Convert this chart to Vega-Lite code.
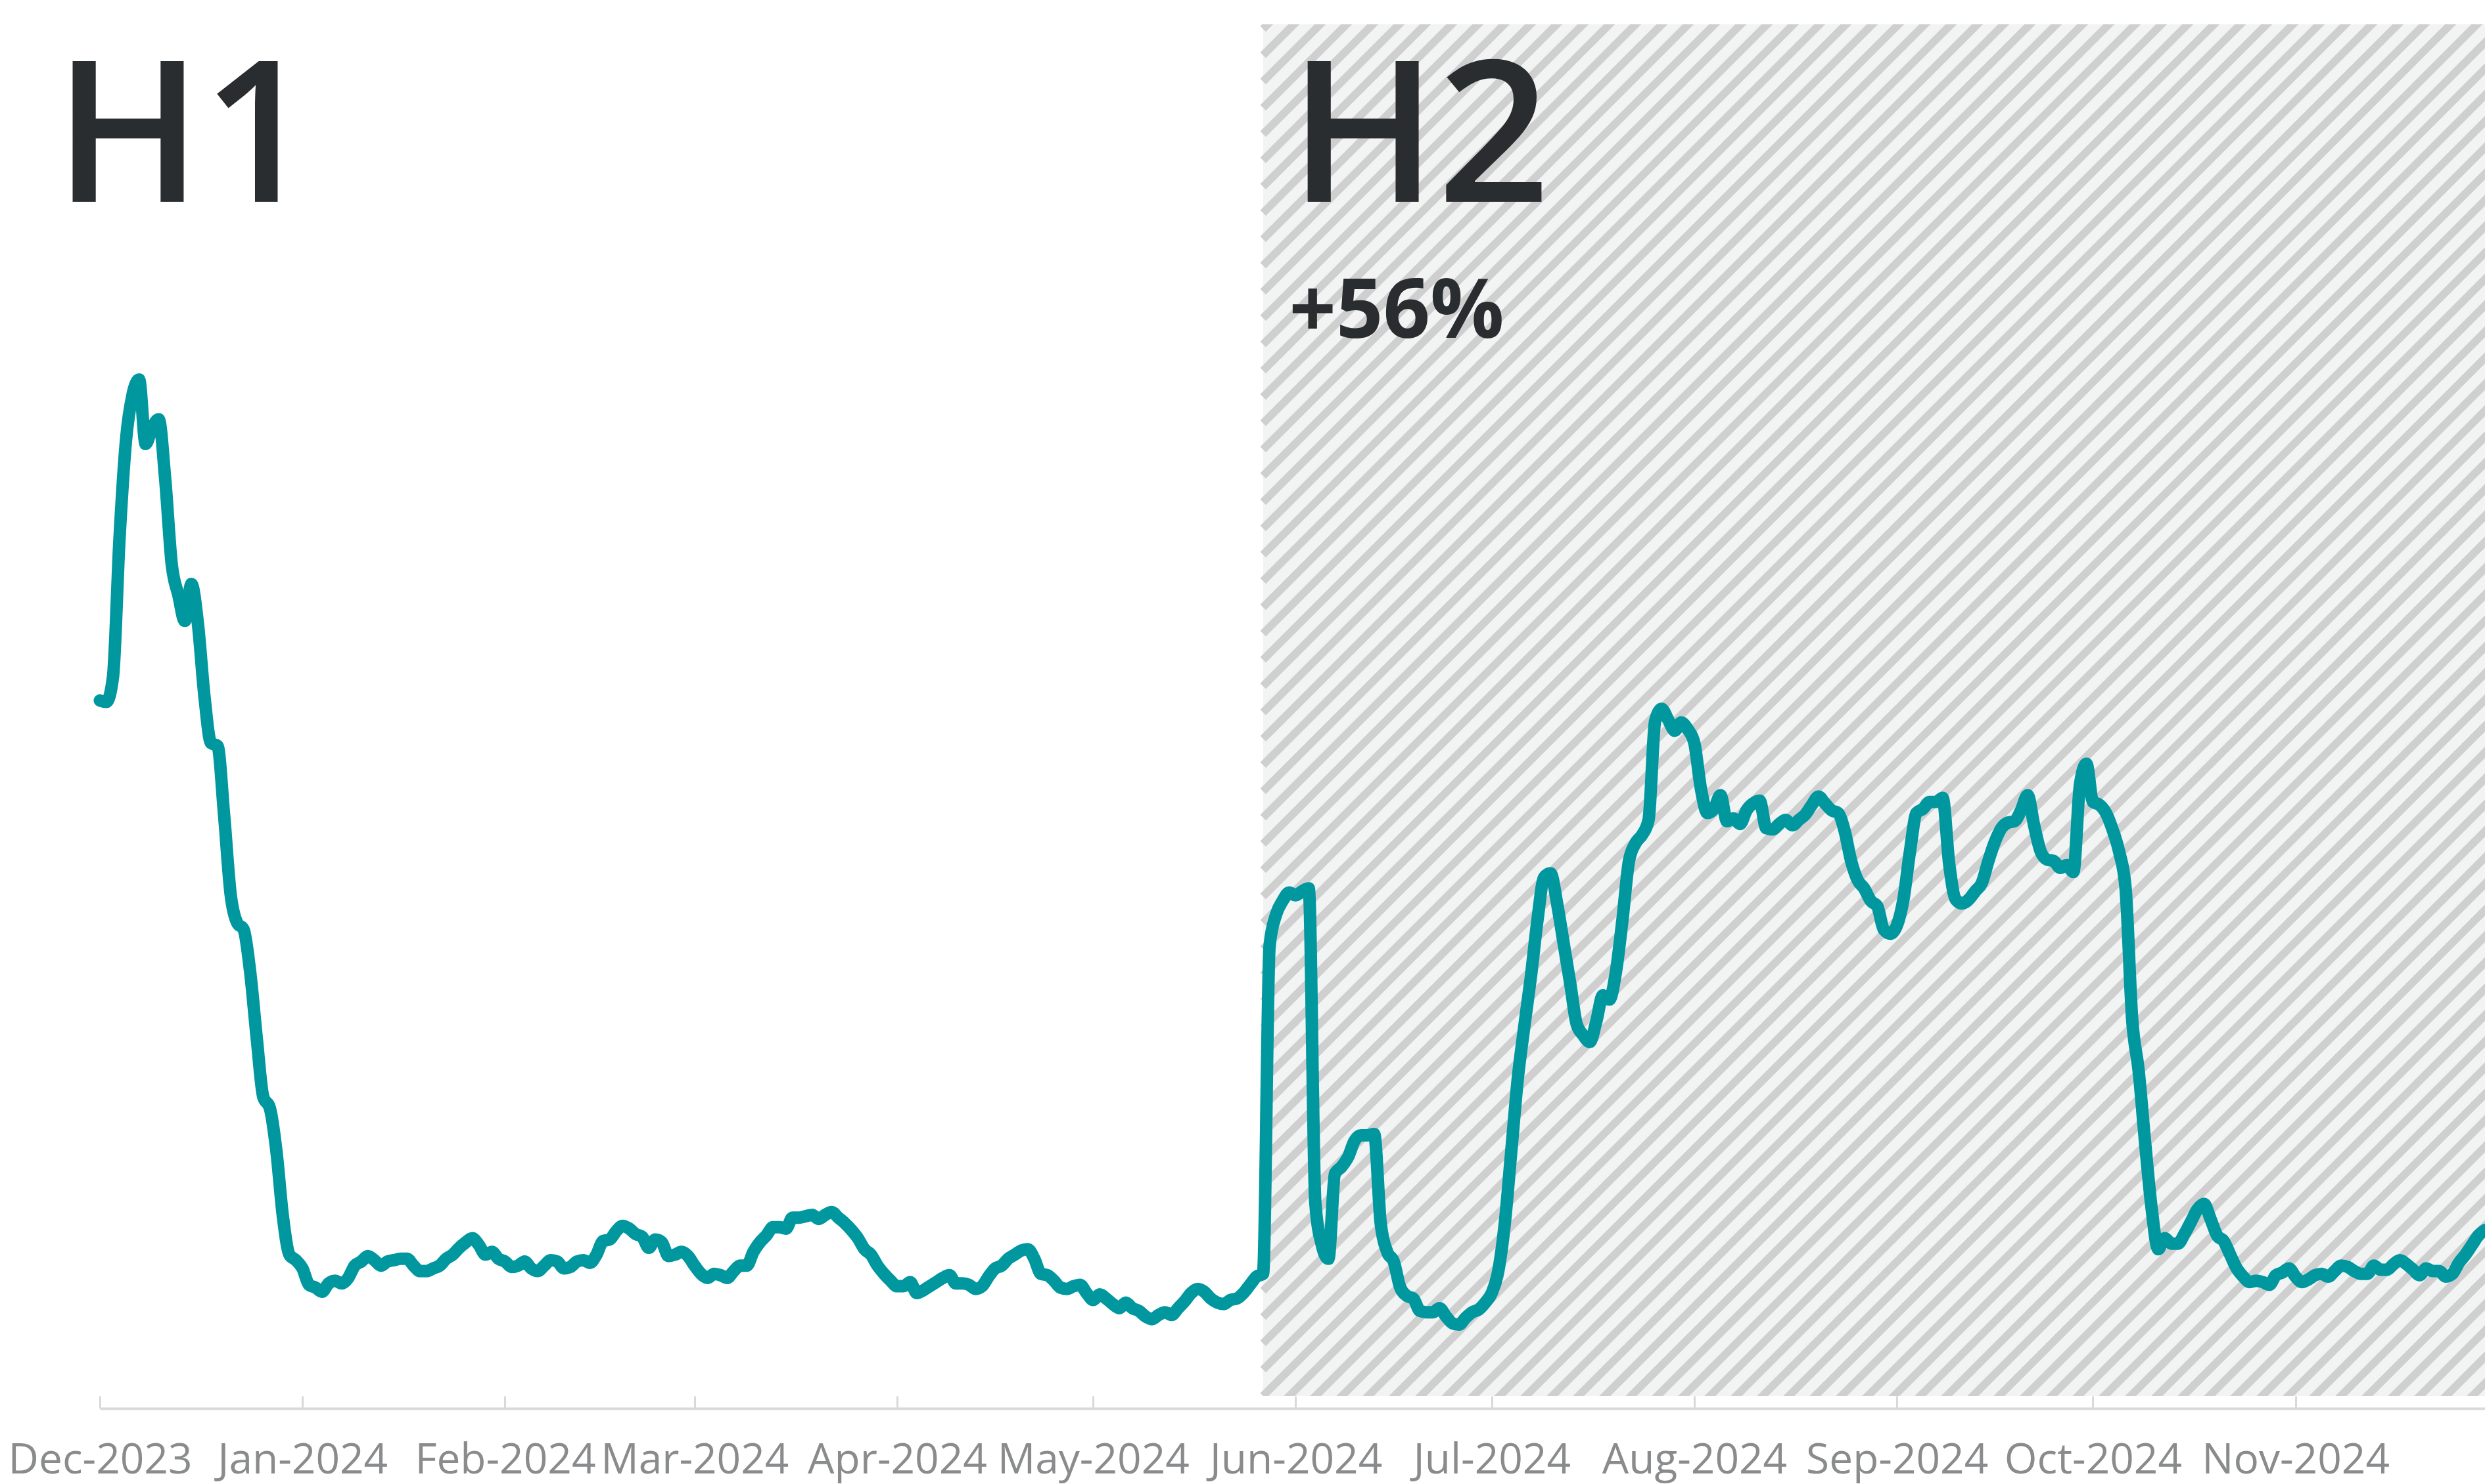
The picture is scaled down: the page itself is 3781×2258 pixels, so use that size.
{
"$schema": "https://vega.github.io/schema/vega-lite/v6.json",
"width": 3629,
"height": 2087,
"autosize": {"type": "none"},
"padding": {"left": 152, "top": 37, "right": 0, "bottom": 134},
"background": "#ffffff",
"config": {"view": {"stroke": null}, "font": "Open Sans"},
"datasets": {
"period": [{"period": "H2", "date": "2024-05-27", "end": "2024-11-30", "value": 0, "top": 100}],
"labels": [{"label": "H1", "date": "2023-11-24", "value": 87.06}, {"label": "H2", "date": "2024-05-31", "value": 87.06}],
"change": [{"label": "+56%", "date": "2024-05-31", "value": 77.14}],
"series": [
{"date":"2023-12-01","value":50.7},{"date":"2023-12-02","value":50.6},{"date":"2023-12-03","value":52.4},{"date":"2023-12-04","value":62.5},{"date":"2023-12-05","value":69.7},{"date":"2023-12-06","value":73.0},{"date":"2023-12-07","value":74.1},{"date":"2023-12-08","value":69.4},{"date":"2023-12-09","value":70.6},{"date":"2023-12-10","value":71.2},{"date":"2023-12-11","value":66.8},{"date":"2023-12-12","value":60.6},{"date":"2023-12-13","value":58.4},{"date":"2023-12-14","value":56.5},{"date":"2023-12-15","value":59.2},{"date":"2023-12-16","value":56.3},{"date":"2023-12-17","value":51.0},{"date":"2023-12-18","value":47.6},{"date":"2023-12-19","value":47.4},{"date":"2023-12-20","value":42.4},{"date":"2023-12-21","value":36.6},{"date":"2023-12-22","value":34.5},{"date":"2023-12-23","value":34.0},{"date":"2023-12-24","value":30.9},{"date":"2023-12-25","value":26.1},{"date":"2023-12-26","value":21.8},{"date":"2023-12-27","value":21.0},{"date":"2023-12-28","value":17.9},{"date":"2023-12-29","value":13.1},{"date":"2023-12-30","value":10.3},{"date":"2023-12-31","value":9.9},
{"date":"2024-01-01","value":9.3},{"date":"2024-01-02","value":8.1},{"date":"2024-01-03","value":7.9},{"date":"2024-01-04","value":7.6},{"date":"2024-01-05","value":8.2},{"date":"2024-01-06","value":8.4},{"date":"2024-01-07","value":8.2},{"date":"2024-01-08","value":8.6},{"date":"2024-01-09","value":9.5},{"date":"2024-01-10","value":9.8},{"date":"2024-01-11","value":10.2},{"date":"2024-01-12","value":9.9},{"date":"2024-01-13","value":9.5},{"date":"2024-01-14","value":9.8},{"date":"2024-01-15","value":9.9},{"date":"2024-01-16","value":10.0},{"date":"2024-01-17","value":10.0},{"date":"2024-01-18","value":9.5},{"date":"2024-01-19","value":9.1},{"date":"2024-01-20","value":9.1},{"date":"2024-01-21","value":9.3},{"date":"2024-01-22","value":9.5},{"date":"2024-01-23","value":10.0},{"date":"2024-01-24","value":10.3},{"date":"2024-01-25","value":10.8},{"date":"2024-01-26","value":11.2},{"date":"2024-01-27","value":11.5},{"date":"2024-01-28","value":11.0},{"date":"2024-01-29","value":10.3},{"date":"2024-01-30","value":10.5},{"date":"2024-01-31","value":10.0},
{"date":"2024-02-01","value":9.8},{"date":"2024-02-02","value":9.4},{"date":"2024-02-03","value":9.5},{"date":"2024-02-04","value":9.8},{"date":"2024-02-05","value":9.3},{"date":"2024-02-06","value":9.1},{"date":"2024-02-07","value":9.5},{"date":"2024-02-08","value":9.9},{"date":"2024-02-09","value":9.8},{"date":"2024-02-10","value":9.3},{"date":"2024-02-11","value":9.4},{"date":"2024-02-12","value":9.8},{"date":"2024-02-13","value":9.9},{"date":"2024-02-14","value":9.7},{"date":"2024-02-15","value":10.3},{"date":"2024-02-16","value":11.3},{"date":"2024-02-17","value":11.4},{"date":"2024-02-18","value":12.0},{"date":"2024-02-19","value":12.4},{"date":"2024-02-20","value":12.2},{"date":"2024-02-21","value":11.8},{"date":"2024-02-22","value":11.6},{"date":"2024-02-23","value":10.8},{"date":"2024-02-24","value":11.4},{"date":"2024-02-25","value":11.2},{"date":"2024-02-26","value":10.2},{"date":"2024-02-27","value":10.3},{"date":"2024-02-28","value":10.5},{"date":"2024-02-29","value":10.2},
{"date":"2024-03-01","value":9.5},{"date":"2024-03-02","value":8.9},{"date":"2024-03-03","value":8.6},{"date":"2024-03-04","value":8.9},{"date":"2024-03-05","value":8.8},{"date":"2024-03-06","value":8.6},{"date":"2024-03-07","value":9.1},{"date":"2024-03-08","value":9.5},{"date":"2024-03-09","value":9.5},{"date":"2024-03-10","value":10.5},{"date":"2024-03-11","value":11.2},{"date":"2024-03-12","value":11.7},{"date":"2024-03-13","value":12.3},{"date":"2024-03-14","value":12.3},{"date":"2024-03-15","value":12.2},{"date":"2024-03-16","value":13.0},{"date":"2024-03-17","value":13.0},{"date":"2024-03-18","value":13.1},{"date":"2024-03-19","value":13.2},{"date":"2024-03-20","value":12.9},{"date":"2024-03-21","value":13.2},{"date":"2024-03-22","value":13.4},{"date":"2024-03-23","value":13.0},{"date":"2024-03-24","value":12.6},{"date":"2024-03-25","value":12.1},{"date":"2024-03-26","value":11.5},{"date":"2024-03-27","value":10.7},{"date":"2024-03-28","value":10.3},{"date":"2024-03-29","value":9.5},{"date":"2024-03-30","value":8.9},{"date":"2024-03-31","value":8.4},
{"date":"2024-04-01","value":8.0},{"date":"2024-04-02","value":8.0},{"date":"2024-04-03","value":8.3},{"date":"2024-04-04","value":7.5},{"date":"2024-04-05","value":7.7},{"date":"2024-04-06","value":8.0},{"date":"2024-04-07","value":8.3},{"date":"2024-04-08","value":8.6},{"date":"2024-04-09","value":8.8},{"date":"2024-04-10","value":8.2},{"date":"2024-04-11","value":8.2},{"date":"2024-04-12","value":8.1},{"date":"2024-04-13","value":7.8},{"date":"2024-04-14","value":8.0},{"date":"2024-04-15","value":8.7},{"date":"2024-04-16","value":9.3},{"date":"2024-04-17","value":9.5},{"date":"2024-04-18","value":10.0},{"date":"2024-04-19","value":10.3},{"date":"2024-04-20","value":10.6},{"date":"2024-04-21","value":10.7},{"date":"2024-04-22","value":10.0},{"date":"2024-04-23","value":8.9},{"date":"2024-04-24","value":8.8},{"date":"2024-04-25","value":8.4},{"date":"2024-04-26","value":7.9},{"date":"2024-04-27","value":7.8},{"date":"2024-04-28","value":8.0},{"date":"2024-04-29","value":8.1},{"date":"2024-04-30","value":7.5},
{"date":"2024-05-01","value":7.0},{"date":"2024-05-02","value":7.4},{"date":"2024-05-03","value":7.1},{"date":"2024-05-04","value":6.7},{"date":"2024-05-05","value":6.4},{"date":"2024-05-06","value":6.8},{"date":"2024-05-07","value":6.4},{"date":"2024-05-08","value":6.2},{"date":"2024-05-09","value":5.8},{"date":"2024-05-10","value":5.6},{"date":"2024-05-11","value":5.9},{"date":"2024-05-12","value":6.1},{"date":"2024-05-13","value":5.9},{"date":"2024-05-14","value":6.4},{"date":"2024-05-15","value":6.9},{"date":"2024-05-16","value":7.5},{"date":"2024-05-17","value":7.8},{"date":"2024-05-18","value":7.6},{"date":"2024-05-19","value":7.1},{"date":"2024-05-20","value":6.8},{"date":"2024-05-21","value":6.7},{"date":"2024-05-22","value":7.0},{"date":"2024-05-23","value":7.1},{"date":"2024-05-24","value":7.5},{"date":"2024-05-25","value":8.1},{"date":"2024-05-26","value":8.7},{"date":"2024-05-27","value":8.9},{"date":"2024-05-28","value":32.8},{"date":"2024-05-29","value":35.1},{"date":"2024-05-30","value":36.1},{"date":"2024-05-31","value":36.7},
{"date":"2024-06-01","value":36.5},{"date":"2024-06-02","value":36.8},{"date":"2024-06-03","value":37.0},{"date":"2024-06-04","value":14.1},{"date":"2024-06-05","value":11.0},{"date":"2024-06-06","value":10.0},{"date":"2024-06-07","value":16.2},{"date":"2024-06-08","value":16.7},{"date":"2024-06-09","value":17.4},{"date":"2024-06-10","value":18.6},{"date":"2024-06-11","value":19.0},{"date":"2024-06-12","value":19.0},{"date":"2024-06-13","value":19.1},{"date":"2024-06-14","value":12.6},{"date":"2024-06-15","value":10.5},{"date":"2024-06-16","value":9.8},{"date":"2024-06-17","value":7.9},{"date":"2024-06-18","value":7.3},{"date":"2024-06-19","value":7.1},{"date":"2024-06-20","value":6.2},{"date":"2024-06-21","value":6.1},{"date":"2024-06-22","value":6.1},{"date":"2024-06-23","value":6.4},{"date":"2024-06-24","value":5.8},{"date":"2024-06-25","value":5.3},{"date":"2024-06-26","value":5.2},{"date":"2024-06-27","value":5.7},{"date":"2024-06-28","value":6.1},{"date":"2024-06-29","value":6.3},{"date":"2024-06-30","value":6.8},
{"date":"2024-07-01","value":7.5},{"date":"2024-07-02","value":9.1},{"date":"2024-07-03","value":12.6},{"date":"2024-07-04","value":17.9},{"date":"2024-07-05","value":23.2},{"date":"2024-07-06","value":27.0},{"date":"2024-07-07","value":30.6},{"date":"2024-07-08","value":34.7},{"date":"2024-07-09","value":37.8},{"date":"2024-07-10","value":38.1},{"date":"2024-07-11","value":35.9},{"date":"2024-07-12","value":33.0},{"date":"2024-07-13","value":30.1},{"date":"2024-07-14","value":27.1},{"date":"2024-07-15","value":26.3},{"date":"2024-07-16","value":25.8},{"date":"2024-07-17","value":27.3},{"date":"2024-07-18","value":29.2},{"date":"2024-07-19","value":28.9},{"date":"2024-07-20","value":30.9},{"date":"2024-07-21","value":34.7},{"date":"2024-07-22","value":39.0},{"date":"2024-07-23","value":40.3},{"date":"2024-07-24","value":40.9},{"date":"2024-07-25","value":42.0},{"date":"2024-07-26","value":49.2},{"date":"2024-07-27","value":50.1},{"date":"2024-07-28","value":49.3},{"date":"2024-07-29","value":48.5},{"date":"2024-07-30","value":49.1},{"date":"2024-07-31","value":48.6},
{"date":"2024-08-01","value":47.6},{"date":"2024-08-02","value":44.3},{"date":"2024-08-03","value":42.5},{"date":"2024-08-04","value":42.8},{"date":"2024-08-05","value":43.8},{"date":"2024-08-06","value":41.9},{"date":"2024-08-07","value":42.1},{"date":"2024-08-08","value":41.7},{"date":"2024-08-09","value":42.7},{"date":"2024-08-10","value":43.2},{"date":"2024-08-11","value":43.4},{"date":"2024-08-12","value":41.4},{"date":"2024-08-13","value":41.3},{"date":"2024-08-14","value":41.7},{"date":"2024-08-15","value":42.0},{"date":"2024-08-16","value":41.6},{"date":"2024-08-17","value":42.0},{"date":"2024-08-18","value":42.4},{"date":"2024-08-19","value":43.1},{"date":"2024-08-20","value":43.7},{"date":"2024-08-21","value":43.2},{"date":"2024-08-22","value":42.7},{"date":"2024-08-23","value":42.5},{"date":"2024-08-24","value":41.2},{"date":"2024-08-25","value":39.0},{"date":"2024-08-26","value":37.6},{"date":"2024-08-27","value":37.0},{"date":"2024-08-28","value":36.1},{"date":"2024-08-29","value":35.7},{"date":"2024-08-30","value":34.0},{"date":"2024-08-31","value":33.7},
{"date":"2024-09-01","value":34.3},{"date":"2024-09-02","value":36.2},{"date":"2024-09-03","value":39.7},{"date":"2024-09-04","value":42.5},{"date":"2024-09-05","value":42.8},{"date":"2024-09-06","value":43.3},{"date":"2024-09-07","value":43.3},{"date":"2024-09-08","value":43.6},{"date":"2024-09-09","value":38.8},{"date":"2024-09-10","value":36.2},{"date":"2024-09-11","value":35.9},{"date":"2024-09-12","value":36.2},{"date":"2024-09-13","value":36.8},{"date":"2024-09-14","value":37.4},{"date":"2024-09-15","value":39.0},{"date":"2024-09-16","value":40.4},{"date":"2024-09-17","value":41.4},{"date":"2024-09-18","value":41.8},{"date":"2024-09-19","value":41.9},{"date":"2024-09-20","value":42.7},{"date":"2024-09-21","value":43.8},{"date":"2024-09-22","value":41.6},{"date":"2024-09-23","value":39.7},{"date":"2024-09-24","value":39.1},{"date":"2024-09-25","value":39.0},{"date":"2024-09-26","value":38.5},{"date":"2024-09-27","value":38.7},{"date":"2024-09-28","value":38.2},{"date":"2024-09-29","value":44.5},{"date":"2024-09-30","value":46.1},
{"date":"2024-10-01","value":43.3},{"date":"2024-10-02","value":43.1},{"date":"2024-10-03","value":42.5},{"date":"2024-10-04","value":41.3},{"date":"2024-10-05","value":39.7},{"date":"2024-10-06","value":37.0},{"date":"2024-10-07","value":27.5},{"date":"2024-10-08","value":23.7},{"date":"2024-10-09","value":18.4},{"date":"2024-10-10","value":13.6},{"date":"2024-10-11","value":10.7},{"date":"2024-10-12","value":11.5},{"date":"2024-10-13","value":11.1},{"date":"2024-10-14","value":11.1},{"date":"2024-10-15","value":11.8},{"date":"2024-10-16","value":12.7},{"date":"2024-10-17","value":13.6},{"date":"2024-10-18","value":14.0},{"date":"2024-10-19","value":12.9},{"date":"2024-10-20","value":11.7},{"date":"2024-10-21","value":11.3},{"date":"2024-10-22","value":10.3},{"date":"2024-10-23","value":9.3},{"date":"2024-10-24","value":8.7},{"date":"2024-10-25","value":8.3},{"date":"2024-10-26","value":8.4},{"date":"2024-10-27","value":8.3},{"date":"2024-10-28","value":8.1},{"date":"2024-10-29","value":8.8},{"date":"2024-10-30","value":9.0},{"date":"2024-10-31","value":9.3},
{"date":"2024-11-01","value":8.7},{"date":"2024-11-02","value":8.3},{"date":"2024-11-03","value":8.5},{"date":"2024-11-04","value":8.8},{"date":"2024-11-05","value":8.9},{"date":"2024-11-06","value":8.7},{"date":"2024-11-07","value":9.1},{"date":"2024-11-08","value":9.5},{"date":"2024-11-09","value":9.4},{"date":"2024-11-10","value":9.1},{"date":"2024-11-11","value":8.9},{"date":"2024-11-12","value":8.9},{"date":"2024-11-13","value":9.5},{"date":"2024-11-14","value":9.2},{"date":"2024-11-15","value":9.2},{"date":"2024-11-16","value":9.6},{"date":"2024-11-17","value":9.9},{"date":"2024-11-18","value":9.6},{"date":"2024-11-19","value":9.2},{"date":"2024-11-20","value":8.8},{"date":"2024-11-21","value":9.3},{"date":"2024-11-22","value":9.1},{"date":"2024-11-23","value":9.1},{"date":"2024-11-24","value":8.7},{"date":"2024-11-25","value":8.9},{"date":"2024-11-26","value":9.7},{"date":"2024-11-27","value":10.3},{"date":"2024-11-28","value":11.0},{"date":"2024-11-29","value":11.7},{"date":"2024-11-30","value":12.1}
]
},
"encoding": {
"x": {"field": "date", "type": "temporal",
 "scale": {"type": "utc", "domain": [{"year": 2023, "month": 12, "date": 1, "utc": true}, {"year": 2024, "month": 11, "date": 30, "utc": true}], "nice": false},
 "axis": {"title": null, "labelExpr": "utcFormat(datum.value, '%b-%Y')", "tickCount": {"interval": "month", "step": 1}, "grid": false,
  "labelFont": "Open Sans", "labelFontSize": 64, "labelColor": "#8a8b8c", "labelFlush": false, "labelOverlap": false, "labelBound": false, "labelLimit": 1000,
  "labelPadding": 66, "tickSize": -19, "tickColor": "#d9d9d9", "tickWidth": 3, "domainColor": "#d9d9d9", "domainWidth": 4, "offset": 19}},
"y": {"field": "value", "type": "quantitative", "scale": {"domain": [0, 100], "nice": false, "zero": false}, "axis": null}
},
"layer": [
{"data": {"name": "period"}, "mark": {"type": "rect", "color": "#f2f3f3"}, "encoding": {"x2": {"field": "end"}, "y2": {"field": "top"}}},
{"data": {"name": "period"}, "mark": {"type": "point", "size": 4, "filled": false, "color": "#cfcfcf", "strokeWidth": 12, "opacity": 1, "clip": true, "strokeCap": "butt",
 "shape": "M0,1880l4000,-4000m-4000,3960l4000,-4000m-4000,3960l4000,-4000m-4000,3960l4000,-4000m-4000,3960l4000,-4000m-4000,3960l4000,-4000m-4000,3960l4000,-4000m-4000,3960l4000,-4000m-4000,3960l4000,-4000m-4000,3960l4000,-4000m-4000,3960l4000,-4000m-4000,3960l4000,-4000m-4000,3960l4000,-4000m-4000,3960l4000,-4000m-4000,3960l4000,-4000m-4000,3960l4000,-4000m-4000,3960l4000,-4000m-4000,3960l4000,-4000m-4000,3960l4000,-4000m-4000,3960l4000,-4000m-4000,3960l4000,-4000m-4000,3960l4000,-4000m-4000,3960l4000,-4000m-4000,3960l4000,-4000m-4000,3960l4000,-4000m-4000,3960l4000,-4000m-4000,3960l4000,-4000m-4000,3960l4000,-4000m-4000,3960l4000,-4000m-4000,3960l4000,-4000m-4000,3960l4000,-4000m-4000,3960l4000,-4000m-4000,3960l4000,-4000m-4000,3960l4000,-4000m-4000,3960l4000,-4000m-4000,3960l4000,-4000m-4000,3960l4000,-4000m-4000,3960l4000,-4000m-4000,3960l4000,-4000m-4000,3960l4000,-4000m-4000,3960l4000,-4000m-4000,3960l4000,-4000m-4000,3960l4000,-4000m-4000,3960l4000,-4000m-4000,3960l4000,-4000m-4000,3960l4000,-4000m-4000,3960l4000,-4000m-4000,3960l4000,-4000m-4000,3960l4000,-4000m-4000,3960l4000,-4000m-4000,3960l4000,-4000m-4000,3960l4000,-4000m-4000,3960l4000,-4000m-4000,3960l4000,-4000m-4000,3960l4000,-4000m-4000,3960l4000,-4000m-4000,3960l4000,-4000m-4000,3960l4000,-4000m-4000,3960l4000,-4000m-4000,3960l4000,-4000m-4000,3960l4000,-4000m-4000,3960l4000,-4000m-4000,3960l4000,-4000m-4000,3960l4000,-4000m-4000,3960l4000,-4000m-4000,3960l4000,-4000m-4000,3960l4000,-4000m-4000,3960l4000,-4000m-4000,3960l4000,-4000m-4000,3960l4000,-4000m-4000,3960l4000,-4000m-4000,3960l4000,-4000m-4000,3960l4000,-4000m-4000,3960l4000,-4000m-4000,3960l4000,-4000m-4000,3960l4000,-4000m-4000,3960l4000,-4000m-4000,3960l4000,-4000m-4000,3960l4000,-4000m-4000,3960l4000,-4000m-4000,3960l4000,-4000m-4000,3960l4000,-4000m-4000,3960l4000,-4000m-4000,3960l4000,-4000m-4000,3960l4000,-4000m-4000,3960l4000,-4000m-4000,3960l4000,-4000m-4000,3960l4000,-4000m-4000,3960l4000,-4000m-4000,3960l4000,-4000m-4000,3960l4000,-4000m-4000,3960l4000,-4000m-4000,3960l4000,-4000m-4000,3960l4000,-4000m-4000,3960l4000,-4000m-4000,3960l4000,-4000m-4000,3960l4000,-4000m-4000,3960l4000,-4000m-4000,3960l4000,-4000m-4000,3960l4000,-4000m-4000,3960l4000,-4000m-4000,3960l4000,-4000m-4000,3960l4000,-4000m-4000,3960l4000,-4000m-4000,3960l4000,-4000m-4000,3960l4000,-4000m-4000,3960l4000,-4000m-4000,3960l4000,-4000m-4000,3960"}},
{"data": {"name": "labels"}, "mark": {"type": "text", "font": "Open Sans", "fontSize": 300, "fontWeight": 600, "color": "#2a2d30", "align": "left", "baseline": "alphabetic"}, "encoding": {"text": {"field": "label"}}},
{"data": {"name": "change"}, "mark": {"type": "text", "font": "Open Sans", "fontSize": 125, "fontWeight": "bold", "color": "#2a2d30", "align": "left", "baseline": "alphabetic"}, "encoding": {"text": {"field": "label"}}},
{"data": {"name": "series"}, "mark": {"type": "line", "color": "#00979f", "strokeWidth": 19, "interpolate": "monotone", "strokeCap": "round", "strokeJoin": "round"}}
]
}
